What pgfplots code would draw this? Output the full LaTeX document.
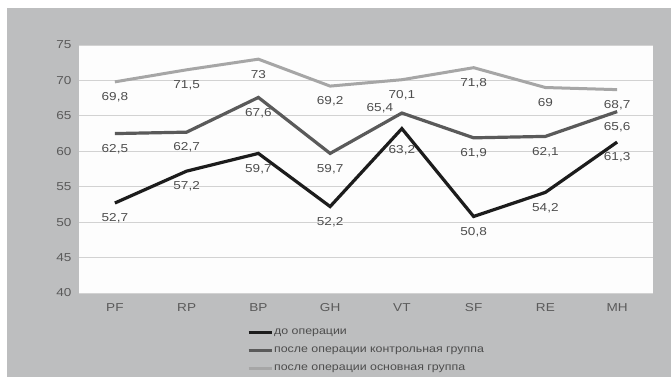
\documentclass[border=0pt]{standalone}
\usepackage{fontspec}
\setmainfont{Liberation Sans}[FakeStretch=1.18]
\usepackage{pgfplots}
\pgfplotsset{compat=1.18}

\definecolor{bg}{HTML}{BDBEBF}
\definecolor{plotbg}{HTML}{FDFDFD}
\definecolor{gridc}{HTML}{D2D2D2}
\definecolor{tickc}{HTML}{5A5A5A}
\definecolor{labc}{HTML}{4D4D4D}
\definecolor{serA}{HTML}{1C1C1C}
\definecolor{serB}{HTML}{5A5A5A}
\definecolor{serC}{HTML}{A6A6A6}

\begin{document}
\begin{tikzpicture}[x=1pt,y=1pt]
% chart area
\fill[white] (0,0) rectangle (671,377);
\fill[bg] (7,0) rectangle (671,369);
\begin{axis}[
  at={(79pt,84pt)}, anchor=south west,
  scale only axis, width=574pt, height=248pt,
  xmin=-0.5, xmax=7.5, ymin=40, ymax=75,
  axis background/.style={fill=plotbg},
  axis line style={draw=none},
  ytick={40,45,...,75}, xtick={0,...,7},
  xticklabels={PF,RP,BP,GH,VT,SF,RE,MH},
  major tick length=0pt,
  ymajorgrids, grid style={gridc, line width=0.8pt},
  tick label style={font=\fontsize{11.5}{13}\selectfont, text=tickc},
  yticklabel style={xshift=-4pt},
  xticklabel style={yshift=-7pt},
  /pgf/number format/assume math mode=true,
  /pgf/number format/use comma,
  /pgf/number format/fixed,
  /pgf/number format/precision=1,
  nodes near coords,
  every node near coord/.append style={font=\fontsize{11.5}{13}\selectfont, text=labc, anchor=center, yshift=-15.5pt},
  legend style={at={(0.287,-0.133)}, anchor=north west, draw=none, fill=none,
    font=\fontsize{10.5}{12}\selectfont, text=labc, row sep=8.5pt,
    nodes={inner sep=1pt}},
  legend cell align=left,
  legend image code/.code={\draw[#1] (0pt,0pt) -- (23pt,0pt);},
]
\addplot[serA, line width=3.2pt,
  coordinate style/.condition={\coordindex==4}{yshift=-6pt}] coordinates {
  (0,52.7) (1,57.2) (2,59.7) (3,52.2) (4,63.2) (5,50.8) (6,54.2) (7,61.3)};
\addlegendentry{до операции}
\addplot[serB, line width=3.2pt,
  coordinate style/.condition={\coordindex==4}{xshift=-22pt, yshift=20.5pt}] coordinates {
  (0,62.5) (1,62.7) (2,67.6) (3,59.7) (4,65.4) (5,61.9) (6,62.1) (7,65.6)};
\addlegendentry{после операции контрольная группа}
\addplot[serC, line width=3pt] coordinates {
  (0,69.8) (1,71.5) (2,73) (3,69.2) (4,70.1) (5,71.8) (6,69) (7,68.7)};
\addlegendentry{после операции основная группа}
\end{axis}
\useasboundingbox (0,0) rectangle (671,377);
\end{tikzpicture}
\end{document}
